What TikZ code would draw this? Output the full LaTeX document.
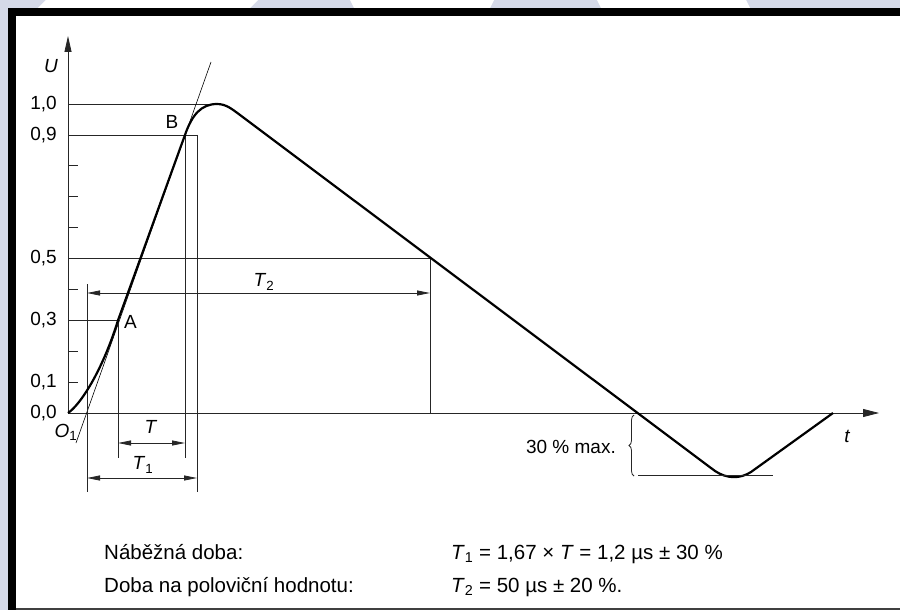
\documentclass[tikz,border=0pt]{standalone}
\usepackage{fontspec}
\setmainfont{Liberation Sans}
\usetikzlibrary{arrows.meta,decorations.pathreplacing}
\definecolor{wmblue}{RGB}{213,217,232}
\newcommand{\Tn}[1]{\textit{T}\textsubscript{#1}}

\begin{document}
\begin{tikzpicture}[x=1pt,y=-1pt,
    thinline/.style={line width=0.8pt, draw=black!85},
    dimarrow/.style={thinline, {Triangle[length=13pt,width=5pt]}-{Triangle[length=13pt,width=5pt]}},
    lbl/.style={font=\fontsize{19}{22}\selectfont, inner sep=0pt},
    txt/.style={font=\fontsize{20.5}{24}\selectfont, inner sep=0pt, anchor=base west}]
    % frame
    \path[fill=wmblue](0,0)rectangle(900,610);
    \path[fill=white](46,0)--(258,0)--(250,8)--(38,8)--cycle;
    \path[fill=white](350,0)--(494,0)--(490,8)--(354,8)--cycle;
    \path[fill=white](597,0)--(746,0)--(750,8)--(601,8)--cycle;
    \path[fill=black](8,8)rectangle(900,610);
    \path[fill=white](16,16)rectangle(900,608);
    \path[fill=black!75](16,608)rectangle(900,610);

    % axes
    \coordinate(o)at(68,413);
    \coordinate(utop)at(68,36);
    \coordinate(tend)at(879,413);
    \path[draw, thinline, -{Triangle[length=16pt,width=7pt]}](o)to(utop);
    \path[draw, thinline, -{Triangle[length=16pt,width=8pt]}](o)to(tend);
    \node[lbl, font=\fontsize{19}{22}\selectfont\itshape](ulbl)at(51,66){U};
    \node[lbl, font=\fontsize{19}{22}\selectfont\itshape](tlbl)at(847,436){t};
    % ticks
    \foreach \v in {0.1,0.2,0.4,0.6,0.7,0.8}
        \path[draw, thinline](68,{413-309*\v})to(78,{413-309*\v});
    \foreach \v/\s in {1.0/{1,0},0.9/{0,9},0.5/{0,5},0.3/{0,3},0.1/{0,1},0.0/{0,0}}
        \node[lbl, anchor=east](tick\v)at(57,{413-309*\v}){\s};

    % levels
    \coordinate(pA)at(118,320.3);
    \coordinate(pB)at(185,134.9);
    \coordinate(pk)at(217,104);
    \coordinate(ph)at(430,258.5);
    \coordinate(c1)at(197,104);
    \path[draw, thinline](68,104)to(pk);
    \path[draw, thinline](68,134.9)to(197,134.9);
    \path[draw, thinline](68,258.5)to(ph);
    \path[draw, thinline](68,320.3)to(pA);

    % tangent through A and B
    \coordinate(tg1)at(76,443);
    \coordinate(tg2)at(211,62);
    \path[draw, line width=0.6pt](tg1)to(tg2);
    \node[lbl, font=\fontsize{19}{22}\selectfont\itshape](o1)at(66,432){O\textsubscript{\upshape 1}};

    % verticals
    \path[draw, thinline](87,284)to(87,492);
    \path[draw, thinline](pA)to(118,458);
    \path[draw, thinline](pB)to(185,458);
    \path[draw, thinline](197,134.9)to(197,492);
    \path[draw, thinline](ph)to(430,413);

    % dimensions
    \coordinate(t2a)at(87,293);
    \coordinate(t2b)at(430,293);
    \path[draw, dimarrow](t2a)to(t2b);
    \node[lbl](t2lbl)at(264,282){\Tn{2}};
    \coordinate(ta)at(118,443);
    \coordinate(tb)at(185,443);
    \path[draw, dimarrow](ta)to(tb);
    \node[lbl](tlbl2)at(151,427){\textit{T}};
    \coordinate(t1a)at(87,478);
    \coordinate(t1b)at(197,478);
    \path[draw, dimarrow](t1a)to(t1b);
    \node[lbl](t1lbl)at(143,465){\Tn{1}};
    \node[lbl, anchor=west](albl)at(124,322){A};
    \node[lbl](blbl)at(172,122){B};

    % waveform
    \path[draw, line width=2.2pt, line join=round]
        (o) .. controls (80,405) and (102,372) .. (pA)
        .. controls (132,282) and (165,190) .. (pB)
        .. controls (192,115) and (201,104) .. (pk)
        .. controls (226,104) and (232,109) .. (240,115)
        -- (715,471) .. controls (727,479) and (740,479) .. (751,472)
        -- (833,413);

    % undershoot
    \coordinate(tr1)at(638,475);
    \coordinate(tr2)at(773,475);
    \path[draw, thinline](tr1)to(tr2);
    \path[draw, thinline, decorate, decoration={brace, amplitude=5pt}](634,476)to(634,415);
    \node[lbl, anchor=east](maxlbl)at(616,447){30 \% max.};

    % values
    \node[txt](r1)at(104,559){Náběžná doba:};
    \node[txt](r2)at(104,592){Doba na poloviční hodnotu:};
    \node[txt](v1)at(451,559){\Tn{1} = 1,67 × \textit{T} = 1,2 µs ± 30 \%};
    \node[txt](v2)at(451,592){\Tn{2} = 50 µs ± 20 \%.};
\end{tikzpicture}
\end{document}
